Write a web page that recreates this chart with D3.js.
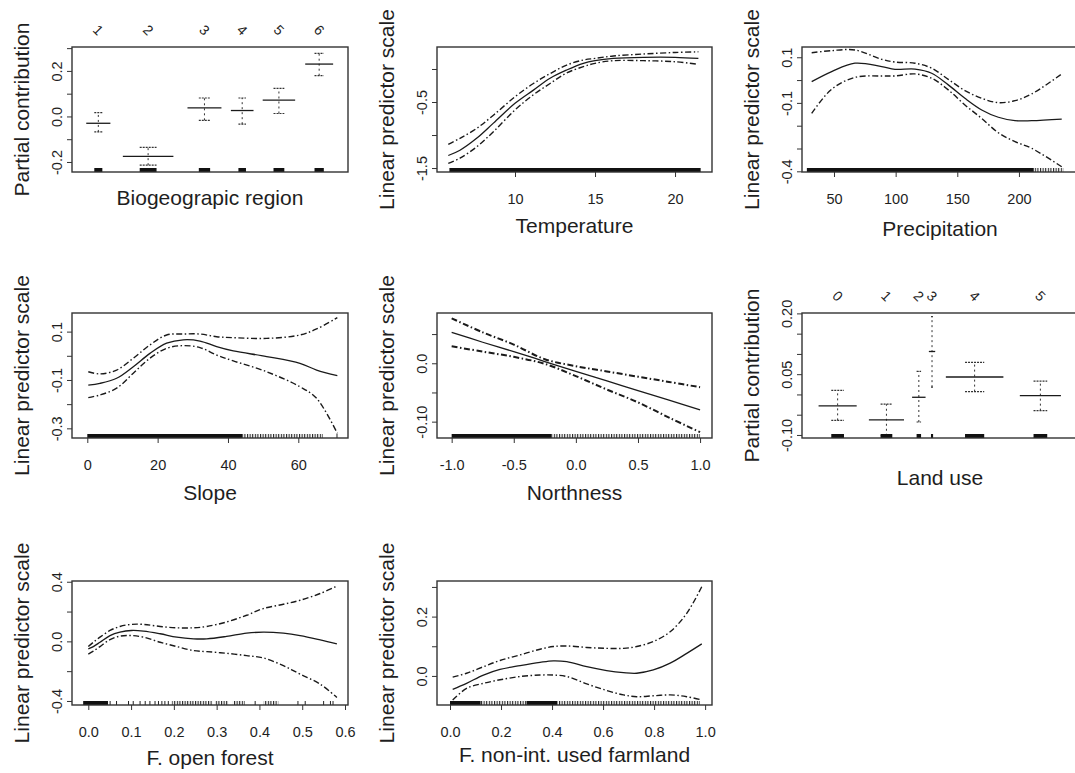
<!DOCTYPE html>
<html>
<head>
<meta charset="utf-8">
<script src="https://cdn.jsdelivr.net/npm/d3@7"></script>
<style>
  html, body { margin: 0; padding: 0; background: #fff; }
  svg { display: block; }
  text { font-family: "Liberation Sans", Arial, Helvetica, sans-serif; fill: #1e1e1e; }
</style>
</head>
<body>
<svg id="plots" width="1075" height="773"></svg>
<script>
// values

// Biogeographic region (factor term, widths ~ group size)
var regionLevels = ["1", "2", "3", "4", "5", "6"];
var regionCount  = [32, 67, 45, 30, 43, 37];
var regionFit    = [-0.030, -0.175, 0.038, 0.026, 0.072, 0.230];
var regionUpper  = [0.017, -0.136, 0.081, 0.081, 0.123, 0.277];
var regionLower  = [-0.068, -0.214, -0.017, -0.034, 0.013, 0.179];

// Temperature
var tempX     = [5.83, 6.56, 7.6, 8.65, 10, 11.15, 12.19, 13.23, 14.27, 15, 16.15, 18.02, 20, 21.46];
var tempFit   = [-1.31, -1.23, -1.05, -0.82, -0.52, -0.32, -0.14, -0.015, 0.086, 0.126, 0.16, 0.177, 0.177, 0.16];
var tempUpper = [-1.14, -1.05, -0.90, -0.70, -0.42, -0.22, -0.07, 0.06, 0.136, 0.16, 0.197, 0.227, 0.25, 0.26];
var tempLower = [-1.43, -1.35, -1.18, -0.95, -0.62, -0.39, -0.22, -0.06, 0.035, 0.086, 0.126, 0.126, 0.11, 0.07];
var tempRugDense = [[5.9, 21.6]];

// Precipitation
var precX     = [31.9, 48.1, 67, 88.7, 99.5, 115.7, 129.2, 142.7, 156.2, 169.8, 183.3, 196.8, 210.3, 234.7];
var precFit   = [-0.007, 0.037, 0.074, 0.059, 0.047, 0.048, 0.030, -0.021, -0.080, -0.131, -0.163, -0.178, -0.178, -0.171];
var precUpper = [0.120, 0.129, 0.132, 0.091, 0.079, 0.074, 0.052, 0.003, -0.046, -0.080, -0.099, -0.090, -0.061, 0.027];
var precLower = [-0.146, -0.040, 0.012, 0.018, 0.018, 0.027, 0.008, -0.043, -0.109, -0.168, -0.231, -0.270, -0.299, -0.380];
var precRugDense  = [[28, 212]];
var precRugSparse = [[212, 236]];

// Slope
var slopeX     = [0.28, 3.6, 8.34, 13.08, 17.82, 22.56, 27.3, 32.04, 36.78, 41.52, 51, 60.47, 65.2, 71.1];
var slopeFit   = [-0.121, -0.114, -0.093, -0.045, 0.010, 0.052, 0.066, 0.061, 0.038, 0.020, -0.003, -0.031, -0.059, -0.082];
var slopeUpper = [-0.066, -0.075, -0.059, -0.010, 0.045, 0.086, 0.090, 0.090, 0.079, 0.075, 0.072, 0.086, 0.111, 0.158];
var slopeLower = [-0.173, -0.162, -0.134, -0.072, -0.010, 0.031, 0.042, 0.034, 0.003, -0.021, -0.066, -0.128, -0.176, -0.321];
var slopeRugDense  = [[0, 44]];
var slopeRugSparse = [[44, 67]];
var slopeRugTicks  = [71];

// Northness
var northX     = [-1, -0.75, -0.5, -0.25, 0, 0.25, 0.5, 0.75, 1];
var northFit   = [0.053, 0.036, 0.020, 0.003, -0.014, -0.030, -0.047, -0.063, -0.080];
var northUpper = [0.077, 0.053, 0.032, 0.007, -0.005, -0.014, -0.023, -0.032, -0.041];
var northLower = [0.029, 0.020, 0.011, -0.001, -0.022, -0.045, -0.067, -0.093, -0.118];
var northRugDense  = [[-1, -0.2]];
var northRugSparse = [[-0.2, 1]];

// Land use (factor term)
var landLevels = ["0", "1", "2", "3", "4", "5"];
var landCount  = [51, 47, 18, 8.5, 77, 55];
var landFit    = [-0.028, -0.063, -0.007, 0.106, 0.043, -0.003];
var landUpper  = [0.010, -0.024, 0.057, 0.192, 0.079, 0.033];
var landLower  = [-0.064, -0.102, -0.068, 0.018, 0.007, -0.040];

// F. open forest
var forestX     = [0, 0.0117, 0.0273, 0.0507, 0.074, 0.101, 0.129, 0.168, 0.207, 0.246, 0.277, 0.323, 0.370, 0.409, 0.456, 0.495, 0.542, 0.581];
var forestFit   = [-0.051, -0.035, -0.006, 0.039, 0.062, 0.073, 0.069, 0.051, 0.028, 0.017, 0.017, 0.033, 0.055, 0.062, 0.055, 0.039, 0.010, -0.017];
var forestUpper = [-0.035, -0.006, 0.028, 0.073, 0.100, 0.114, 0.114, 0.100, 0.091, 0.091, 0.100, 0.130, 0.175, 0.220, 0.249, 0.276, 0.321, 0.371];
var forestLower = [-0.085, -0.066, -0.035, 0.012, 0.035, 0.039, 0.028, -0.006, -0.035, -0.062, -0.069, -0.080, -0.096, -0.111, -0.163, -0.220, -0.287, -0.377];
var forestRugDense  = [[-0.012, 0.046]];
var forestRugSparse = [[0.195, 0.29], [0.296, 0.327], [0.338, 0.366], [0.41, 0.444]];
var forestRugTicks  = [0.051, 0.066, 0.094, 0.105, 0.121, 0.133, 0.144, 0.156, 0.164, 0.172, 0.179, 0.187, 0.39, 0.49, 0.507, 0.55, 0.566, 0.572];

// F. non-int. used farmland
var farmX     = [0.0105, 0.065, 0.131, 0.196, 0.275, 0.353, 0.405, 0.458, 0.536, 0.614, 0.68, 0.732, 0.797, 0.863, 0.928, 0.987];
var farmFit   = [-0.045, -0.025, 0.003, 0.022, 0.035, 0.046, 0.051, 0.048, 0.031, 0.018, 0.011, 0.009, 0.020, 0.043, 0.076, 0.108];
var farmUpper = [-0.004, 0.009, 0.031, 0.052, 0.071, 0.090, 0.099, 0.101, 0.096, 0.093, 0.093, 0.099, 0.116, 0.149, 0.211, 0.301];
var farmLower = [-0.081, -0.042, -0.025, -0.013, -0.002, 0.003, 0.003, -0.002, -0.027, -0.049, -0.064, -0.070, -0.067, -0.064, -0.070, -0.081];
var farmRugDense  = [[0, 0.12], [0.3, 0.42]];
var farmRugSparse = [[0.12, 0.3], [0.42, 0.98]];

// axis ticks and labels
var regionYTicks = [-0.2, -0.1, 0, 0.1, 0.2, 0.3],      regionYLabels = ["-0.2", "", "0.0", "", "0.2", ""];
var tempYTicks   = [-1.5, -1, -0.5, 0],                 tempYLabels   = ["-1.5", "", "-0.5", ""];
var tempXTicks   = [10, 15, 20],                        tempXLabels   = ["10", "15", "20"];
var precYTicks   = [-0.4, -0.3, -0.2, -0.1, 0, 0.1],    precYLabels   = ["-0.4", "", "", "-0.1", "", "0.1"];
var precXTicks   = [50, 100, 150, 200],                 precXLabels   = ["50", "100", "150", "200"];
var slopeYTicks  = [-0.3, -0.2, -0.1, 0, 0.1],          slopeYLabels  = ["-0.3", "", "-0.1", "", "0.1"];
var slopeXTicks  = [0, 20, 40, 60],                     slopeXLabels  = ["0", "20", "40", "60"];
var northYTicks  = [-0.1, -0.05, 0, 0.05],              northYLabels  = ["-0.10", "", "0.0", ""];
var northXTicks  = [-1, -0.5, 0, 0.5, 1],               northXLabels  = ["-1.0", "-0.5", "0.0", "0.5", "1.0"];
var landYTicks   = [-0.1, -0.05, 0, 0.05, 0.1, 0.15, 0.2], landYLabels = ["-0.10", "", "", "0.05", "", "", "0.20"];
var forestYTicks = [-0.4, -0.2, 0, 0.2, 0.4],           forestYLabels = ["-0.4", "", "0.0", "", "0.4"];
var forestXTicks = [0, 0.1, 0.2, 0.3, 0.4, 0.5, 0.6],   forestXLabels = ["0.0", "0.1", "0.2", "0.3", "0.4", "0.5", "0.6"];
var farmYTicks   = [0, 0.1, 0.2, 0.3],                  farmYLabels   = ["0.0", "", "0.2", ""];
var farmXTicks   = [0, 0.2, 0.4, 0.6, 0.8, 1],          farmXLabels   = ["0.0", "0.2", "0.4", "0.6", "0.8", "1.0"];


var svg = d3.select("#plots");

var cols = [[72, 348], [437, 712], [802, 1078]];
var rows = [[47, 172], [313, 438], [581, 705]];
var ink = "#1a1a1a";
var dashDot = "6,2.5,1.5,2.5";

var defs = svg.append("defs");
defs.append("pattern")
    .attr("id", "rugTex")
    .attr("patternUnits", "userSpaceOnUse")
    .attr("width", 2.6)
    .attr("height", 8)
  .append("rect")
    .attr("width", 1.1)
    .attr("height", 8)
    .attr("fill", "#222");

function pts(xs, ys) {
  return xs.map(function(v, i) { return [v, ys[i]]; });
}

var panels = [
  { col: 0, row: 0, kind: "factor", levels: regionLevels, count: regionCount, fit: regionFit, upper: regionUpper, lower: regionLower,
    ylim: [-0.244, 0.305], yticks: regionYTicks, ylabels: regionYLabels,
    ytitle: "Partial contribution", xtitle: "Biogeograpic region", xtitleDy: 33 },
  { col: 1, row: 0, kind: "smooth", x: tempX, fit: tempFit, upper: tempUpper, lower: tempLower,
    rugDense: tempRugDense, rugSparse: [], rugTicks: [],
    xlim: [5.125, 22.31], ylim: [-1.56, 0.333], xticks: tempXTicks, xlabels: tempXLabels, yticks: tempYTicks, ylabels: tempYLabels,
    ytitle: "Linear predictor scale", xtitle: "Temperature", xtitleDy: 61 },
  { col: 2, row: 0, kind: "smooth", x: precX, fit: precFit, upper: precUpper, lower: precLower,
    rugDense: precRugDense, rugSparse: precRugSparse, rugTicks: [],
    xlim: [24.05, 247.9], ylim: [-0.403, 0.145], xticks: precXTicks, xlabels: precXLabels, yticks: precYTicks, ylabels: precYLabels,
    ytitle: "Linear predictor scale", xtitle: "Precipitation", xtitleDy: 64 },
  { col: 0, row: 1, kind: "smooth", x: slopeX, fit: slopeFit, upper: slopeUpper, lower: slopeLower,
    rugDense: slopeRugDense, rugSparse: slopeRugSparse, rugTicks: slopeRugTicks,
    xlim: [-4.35, 74.13], ylim: [-0.34, 0.177], xticks: slopeXTicks, xlabels: slopeXLabels, yticks: slopeYTicks, ylabels: slopeYLabels,
    ytitle: "Linear predictor scale", xtitle: "Slope", xtitleDy: 62 },
  { col: 1, row: 1, kind: "smooth", x: northX, fit: northFit, upper: northUpper, lower: northLower,
    rugDense: northRugDense, rugSparse: northRugSparse, rugTicks: [],
    xlim: [-1.118, 1.096], ylim: [-0.128, 0.0861], xticks: northXTicks, xlabels: northXLabels, yticks: northYTicks, ylabels: northYLabels,
    ytitle: "Linear predictor scale", xtitle: "Northness", xtitleDy: 62, bold: true },
  { col: 2, row: 1, kind: "factor", levels: landLevels, count: landCount, fit: landFit, upper: landUpper, lower: landLower,
    ylim: [-0.1075, 0.201], yticks: landYTicks, ylabels: landYLabels,
    ytitle: "Partial contribution", xtitle: "Land use", xtitleDy: 47 },
  { col: 0, row: 2, kind: "smooth", x: forestX, fit: forestFit, upper: forestUpper, lower: forestLower,
    rugDense: forestRugDense, rugSparse: forestRugSparse, rugTicks: forestRugTicks,
    xlim: [-0.0381, 0.607], ylim: [-0.427, 0.405], xticks: forestXTicks, xlabels: forestXLabels, yticks: forestYTicks, ylabels: forestYLabels,
    ytitle: "Linear predictor scale", xtitle: "F. open forest", xtitleDy: 60 },
  { col: 1, row: 2, kind: "smooth", x: farmX, fit: farmFit, upper: farmUpper, lower: farmLower,
    rugDense: farmRugDense, rugSparse: farmRugSparse, rugTicks: [],
    xlim: [-0.051, 1.027], ylim: [-0.098, 0.32], xticks: farmXTicks, xlabels: farmXLabels, yticks: farmYTicks, ylabels: farmYLabels,
    ytitle: "Linear predictor scale", xtitle: "F. non-int. used farmland", xtitleDy: 57 }
];


function drawPanel(p, idx) {
  var c = cols[p.col], r = rows[p.row];
  var g = svg.append("g").attr("class", "panel");

  if (p.kind == "factor") {
    var total = d3.sum(p.count);
    p.xlim = [-0.04 * total, 1.04 * total];
  }
  var x = d3.scaleLinear().domain(p.xlim).range(c);
  var y = d3.scaleLinear().domain(p.ylim).range([r[1], r[0]]);

  defs.append("clipPath").attr("id", "clip" + idx)
    .append("rect")
      .attr("x", c[0]).attr("y", r[0])
      .attr("width", c[1] - c[0]).attr("height", r[1] - r[0]);

  // y axis, labels rotated as in R (las = 0)
  var ya = g.append("g")
      .attr("transform", "translate(" + c[0] + ",0)")
      .call(d3.axisLeft(y).tickValues(p.yticks).tickSize(5)
        .tickFormat(function(d, i) { return p.ylabels[i]; }));
  ya.select(".domain").remove();
  ya.selectAll(".tick line").attr("stroke", "#333");
  ya.selectAll(".tick text")
      .attr("transform", "rotate(-90)")
      .attr("x", 0)
      .attr("y", -10)
      .attr("dy", 0)
      .attr("text-anchor", "middle")
      .attr("font-size", "14.5px")
      .attr("fill", "#1e1e1e");

  if (p.xticks) {
    var xa = g.append("g")
        .attr("transform", "translate(0," + r[1] + ")")
        .call(d3.axisBottom(x).tickValues(p.xticks).tickSize(5)
          .tickFormat(function(d, i) { return p.xlabels[i]; }));
    xa.select(".domain").remove();
    xa.selectAll(".tick line").attr("stroke", "#333");
    xa.selectAll(".tick text")
        .attr("y", 32)
        .attr("dy", 0)
        .attr("font-size", "14.5px")
        .attr("fill", "#1e1e1e");
  }

  g.append("text")
      .attr("transform", "translate(" + (c[0] - 43) + "," + ((r[0] + r[1]) / 2) + ") rotate(-90)")
      .attr("text-anchor", "middle")
      .attr("font-size", "21px")
      .text(p.ytitle);

  g.append("text")
      .attr("x", (c[0] + c[1]) / 2)
      .attr("y", r[1] + p.xtitleDy)
      .attr("text-anchor", "middle")
      .attr("font-size", "21px")
      .text(p.xtitle);

  var plot = g.append("g").attr("clip-path", "url(#clip" + idx + ")");

  if (p.kind == "factor") drawFactor(plot, g, p, x, y, r);
  else drawSmooth(plot, p, x, y, r);

  g.append("rect")
      .attr("x", c[0]).attr("y", r[0])
      .attr("width", c[1] - c[0]).attr("height", r[1] - r[0])
      .attr("fill", "none")
      .attr("stroke", "#333")
      .attr("stroke-width", 1.4);
}


function drawSmooth(plot, p, x, y, r) {
  var line = d3.line()
      .x(function(d) { return x(d[0]); })
      .y(function(d) { return y(d[1]); })
      .curve(d3.curveCatmullRom.alpha(0.5));

  var w = p.bold ? 2 : 1.4;
  plot.selectAll(".band")
    .data([p.upper, p.lower])
    .enter().append("path")
      .attr("class", "band")
      .attr("d", function(d) { return line(pts(p.x, d)); })
      .attr("fill", "none")
      .attr("stroke", ink)
      .attr("stroke-width", w)
      .attr("stroke-dasharray", dashDot);

  plot.append("path")
      .attr("d", line(pts(p.x, p.fit)))
      .attr("fill", "none")
      .attr("stroke", ink)
      .attr("stroke-width", 1.3);

  // rug along the bottom edge
  var bottom = r[1];
  plot.selectAll(".rugd")
    .data(p.rugDense)
    .enter().append("rect")
      .attr("class", "rugd")
      .attr("x", function(d) { return x(d[0]); })
      .attr("width", function(d) { return x(d[1]) - x(d[0]); })
      .attr("y", bottom - 4)
      .attr("height", 4)
      .attr("fill", "#111");
  plot.selectAll(".rugs")
    .data(p.rugSparse)
    .enter().append("rect")
      .attr("class", "rugs")
      .attr("x", function(d) { return x(d[0]); })
      .attr("width", function(d) { return x(d[1]) - x(d[0]); })
      .attr("y", bottom - 4)
      .attr("height", 4)
      .attr("fill", "url(#rugTex)");
  plot.selectAll(".rugt")
    .data(p.rugTicks)
    .enter().append("line")
      .attr("class", "rugt")
      .attr("x1", function(d) { return x(d); })
      .attr("x2", function(d) { return x(d); })
      .attr("y1", bottom - 4)
      .attr("y2", bottom)
      .attr("stroke", "#222")
      .attr("stroke-width", 1);
}


function drawFactor(plot, g, p, x, y, r) {
  var cum = d3.cumsum(p.count);
  var lv = p.levels.map(function(name, i) {
    var right = cum[i], left = right - p.count[i];
    return {
      name: name,
      left: left,
      right: right,
      mid: (left + right) / 2,
      d: (right - left) / 8,
      fit: p.fit[i],
      up: p.upper[i],
      lo: p.lower[i]
    };
  });

  var node = plot.selectAll(".level")
    .data(lv)
    .enter().append("g")
      .attr("class", "level");

  // +/- 2 se: dashed stem with short caps
  node.append("line")
      .attr("x1", function(d) { return x(d.mid); })
      .attr("x2", function(d) { return x(d.mid); })
      .attr("y1", function(d) { return y(d.lo); })
      .attr("y2", function(d) { return y(d.up); })
      .attr("stroke", "#333")
      .attr("stroke-width", 1)
      .attr("stroke-dasharray", "2,3");

  node.selectAll(".cap")
    .data(function(d) { return [[d, d.up], [d, d.lo]]; })
    .enter().append("line")
      .attr("class", "cap")
      .attr("x1", function(e) { return x(e[0].mid - e[0].d); })
      .attr("x2", function(e) { return x(e[0].mid + e[0].d); })
      .attr("y1", function(e) { return y(e[1]); })
      .attr("y2", function(e) { return y(e[1]); })
      .attr("stroke", "#333")
      .attr("stroke-width", 1.2)
      .attr("stroke-dasharray", "2,1");

  node.append("line")
      .attr("x1", function(d) { return x(d.left + d.d); })
      .attr("x2", function(d) { return x(d.right - d.d); })
      .attr("y1", function(d) { return y(d.fit); })
      .attr("y2", function(d) { return y(d.fit); })
      .attr("stroke", ink)
      .attr("stroke-width", 1.3);

  // jittered rug shows as a block per level
  node.append("rect")
      .attr("x", function(d) { return x(d.mid - d.d); })
      .attr("width", function(d) { return x(d.mid + d.d) - x(d.mid - d.d); })
      .attr("y", r[1] - 4)
      .attr("height", 4)
      .attr("fill", "#111");

  g.selectAll(".lvl")
    .data(lv)
    .enter().append("text")
      .attr("class", "lvl")
      .attr("transform", function(d) { return "translate(" + x(d.mid) + "," + (r[0] - 17) + ") rotate(45)"; })
      .attr("text-anchor", "middle")
      .attr("dy", "0.35em")
      .attr("font-size", "14px")
      .text(function(d) { return d.name; });
}

panels.forEach(drawPanel);
</script>
</body>
</html>
